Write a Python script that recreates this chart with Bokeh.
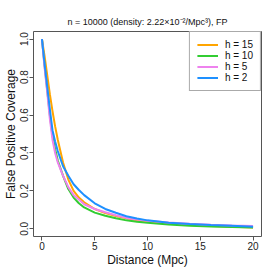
from bokeh.plotting import figure
from bokeh.models import Range1d, Legend, LegendItem
from bokeh.embed import file_html
from bokeh.resources import INLINE

# Data
distance = [0, 0.25, 0.5, 0.75, 1, 1.25, 1.5, 2, 2.5, 3, 3.5, 4, 5, 6, 7, 8, 9, 10, 12, 14, 16, 18, 20]
fp_h15 = [1.0, 0.91, 0.81, 0.71, 0.62, 0.54, 0.47, 0.35, 0.26, 0.20, 0.165, 0.14, 0.105, 0.083, 0.068, 0.056, 0.046, 0.039, 0.028, 0.020, 0.015, 0.011, 0.008]
fp_h10 = [1.0, 0.86, 0.73, 0.60, 0.49, 0.42, 0.36, 0.28, 0.21, 0.165, 0.135, 0.113, 0.086, 0.069, 0.056, 0.045, 0.038, 0.032, 0.023, 0.017, 0.013, 0.010, 0.007]
fp_h5 = [1.0, 0.85, 0.72, 0.58, 0.47, 0.40, 0.35, 0.28, 0.22, 0.178, 0.155, 0.13, 0.105, 0.088, 0.072, 0.058, 0.050, 0.043, 0.034, 0.027, 0.022, 0.018, 0.015]
fp_h2 = [1.0, 0.87, 0.75, 0.63, 0.52, 0.46, 0.41, 0.33, 0.28, 0.235, 0.205, 0.178, 0.135, 0.105, 0.085, 0.067, 0.055, 0.045, 0.033, 0.026, 0.020, 0.016, 0.012]
labels = ["h = 15", "h = 10", "h = 5", "h = 2"]
colors = ["#FFA500", "#32CD32", "#EE82EE", "#1E90FF"]
x_ticks = [0, 5, 10, 15, 20]
y_ticks = [0.0, 0.2, 0.4, 0.6, 0.8, 1.0]

FONT = "Liberation Sans"
GRAY = "#555555"

p = figure(width=269, height=269, output_backend="svg", toolbar_location=None,
           x_range=Range1d(-0.8, 20.8), y_range=Range1d(-0.04, 1.04),
           min_border_left=32, min_border_right=8, min_border_top=31, min_border_bottom=33,
           title="n = 10000 (density: 2.22\u00d710\u207b\u00b2/Mpc\u00b3), FP")

p.title.text_font = FONT
p.title.text_font_size = "9px"
p.title.text_font_style = "normal"
p.title.align = "center"
p.title.text_color = "#111111"
p.title.standoff = 9

p.xgrid.visible = False
p.ygrid.visible = False
p.outline_line_color = GRAY
p.outline_line_width = 1
p.background_fill_color = "white"
p.border_fill_color = "white"

for ax in (p.xaxis[0], p.yaxis[0]):
    ax.axis_line_color = None
    ax.major_tick_line_color = GRAY
    ax.major_tick_out = 4
    ax.major_tick_in = 0
    ax.minor_tick_line_color = None
    ax.major_label_text_font = FONT
    ax.major_label_text_font_size = "10px"
    ax.major_label_text_color = "#222222"
    ax.major_label_standoff = 1
    ax.axis_label_text_font = FONT
    ax.axis_label_text_font_size = "12px"
    ax.axis_label_text_font_style = "normal"
    ax.axis_label_text_color = "#111111"
    ax.axis_label_standoff = 0

p.xaxis.ticker = x_ticks
p.yaxis.ticker = y_ticks
p.yaxis.major_label_overrides = {v: f"{v:.1f}" for v in y_ticks}
p.yaxis.major_label_orientation = "vertical"
p.xaxis.axis_label = "Distance (Mpc)"
p.yaxis.axis_label = "False Positive Coverage"

series = [fp_h15, fp_h10, fp_h5, fp_h2]
renderers = []
for ys, c in zip(series, colors):
    r = p.line(distance, ys, line_color=c, line_width=2)
    renderers.append(r)

legend = Legend(items=[LegendItem(label=l, renderers=[r]) for l, r in zip(labels, renderers)],
                location="top_right", margin=0, padding=7, spacing=0,
                label_height=11, glyph_height=11, glyph_width=21, label_standoff=7,
                label_text_font=FONT, label_text_font_size="10px", label_text_color="#111111",
                border_line_color=GRAY, border_line_width=1, background_fill_alpha=1)
p.add_layout(legend, "center")

open("out.html", "w").write(file_html(p, INLINE))
